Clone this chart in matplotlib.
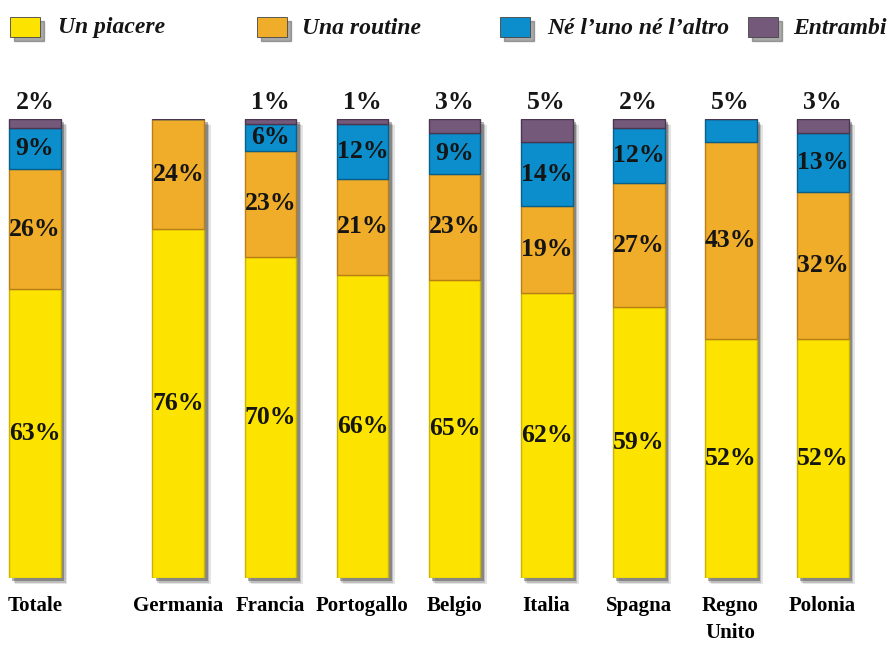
import matplotlib
matplotlib.use("Agg")
import matplotlib.pyplot as plt
from matplotlib.patches import Rectangle

# dati
paesi = ["Totale", "Germania", "Francia", "Portogallo", "Belgio",
         "Italia", "Spagna", "Regno\nUnito", "Polonia"]
piacere = [63, 76, 70, 66, 65, 62, 59, 52, 52]
routine = [26, 24, 23, 21, 23, 19, 27, 43, 32]
nessuno = [9, 0, 6, 12, 9, 14, 12, 5, 13]
entrambi = [2, 0, 1, 1, 3, 5, 2, 0, 3]

serie = [piacere, routine, nessuno, entrambi]
nomi = ["Un piacere", "Una routine", "Né l’uno né l’altro", "Entrambi"]
colori = ["#FDE400", "#F0AD2A", "#0B8ECB", "#75597B"]
bordi = ["#C9B400", "#B97F14", "#075F8A", "#4A3650"]

plt.rcParams["font.family"] = "Liberation Serif"

fig = plt.figure(figsize=(8.93, 6.45), dpi=100)
ax = fig.add_axes([0, 0.1039, 1, 0.7116])

# Totale separato dagli altri
x = [0] + [1.56 + i for i in range(len(paesi) - 1)]
w = 0.565

# ombra dietro le barre
tot = [sum(v) for v in zip(*serie)]
for k, a in [(0.07, 0.12), (0.05, 0.2), (0.035, 0.35)]:
    ax.bar([xi + k for xi in x], tot, width=w, bottom=-k * 20,
           color="#222222", alpha=a, linewidth=0, clip_on=False, zorder=1)

fondo = [0] * len(paesi)
for vals, col, bc in zip(serie, colori, bordi):
    ax.bar(x, vals, width=w, bottom=fondo, color=col, edgecolor=bc,
           linewidth=1.0, zorder=2)
    fondo = [f + v for f, v in zip(fondo, vals)]

# etichette dei valori
for i in range(len(paesi)):
    base = 0
    vals = [s[i] for s in serie]
    top = max(j for j, v in enumerate(vals) if v > 0)
    for j, v in enumerate(vals):
        if v == 0:
            continue
        if j == top and v <= 5:
            ax.text(x[i], base + v + 3.6, f"{v}%", ha="center", va="center",
                    fontsize=18.5, fontweight="bold", color="#151515")
        else:
            ax.text(x[i], base + v / 2, f"{v}%", ha="center", va="center",
                    fontsize=18.5, fontweight="bold", color="#151515", zorder=3)
        base += v

ax.set_xlim(-0.38, 9.326)
ax.set_ylim(0, 100)
ax.set_xticks(x, paesi, fontsize=15, fontweight="bold", linespacing=1.45)
ax.tick_params(axis="x", length=0, pad=13)
ax.set_yticks([])
for s in ax.spines.values():
    s.set_visible(False)

# legenda in alto
lx = [10, 257, 500, 748]
tx = [58, 302, 547, 793]
W, H = 893.0, 645.0
for px, ptx, nome, col in zip(lx, tx, nomi, colori):
    fig.patches.append(Rectangle(((px + 4) / W, (H - 41) / H), 30 / W, 20 / H,
                                 transform=fig.transFigure, color="#555555",
                                 alpha=0.5, zorder=1))
    fig.patches.append(Rectangle((px / W, (H - 37) / H), 30 / W, 20 / H,
                                 transform=fig.transFigure, facecolor=col,
                                 edgecolor="#444444", linewidth=0.6, zorder=2))
    fig.text(ptx / W, (H - 28) / H, nome, ha="left", va="center",
             fontsize=17, fontweight="bold", fontstyle="italic",
             color="#151515")

fig.savefig("out.png", dpi=100)
